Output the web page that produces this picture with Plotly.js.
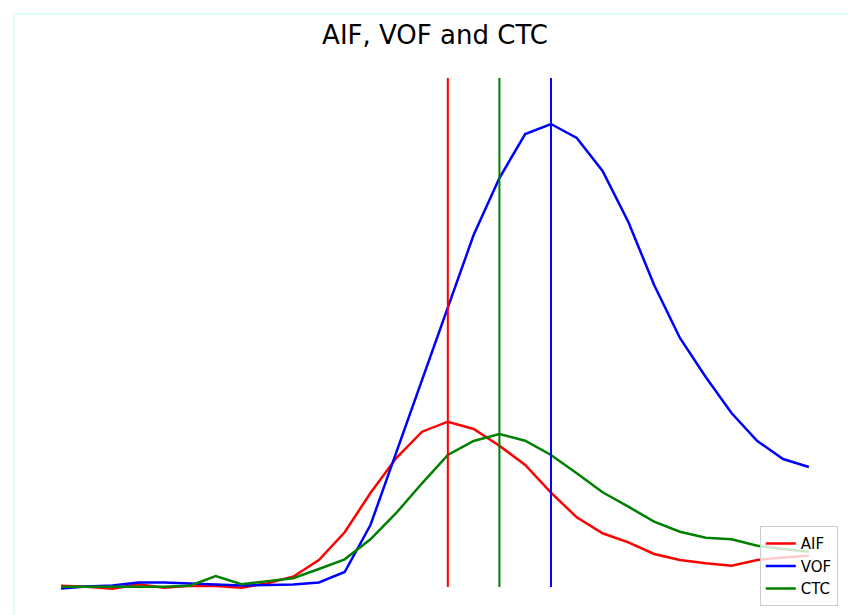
<!DOCTYPE html>
<html>
<head>
<meta charset="utf-8">
<script src="https://cdn.plot.ly/plotly-3.0.1.min.js"></script>
<style>
  html, body { margin: 0; padding: 0; background: #ffffff; }
  #wrap { position: relative; width: 848px; height: 615px; overflow: hidden; }
  #chart { position: absolute; left: 0; top: 0; width: 848px; height: 615px; }
  #frame { position: absolute; left: 13px; top: 13px; width: 900px; height: 700px;
           border-left: 2px solid #defcfa; border-top: 2px solid #defcfa; pointer-events: none; }
</style>
</head>
<body>
<div id="wrap">
  <div id="chart"></div>
  <div id="frame"></div>
</div>
<script>
// Time frame indices
const frames = Array.from({length: 30}, (_, i) => i);

// Series values (arbitrary intensity units)
const aif = [4.3, 3.3, 1.3, 5.7, 2.3, 4.3, 4, 2.3, 6.7, 13.3, 30, 57.7, 97, 132, 158.3, 168.3, 161, 144.3, 125, 97.3, 72.7, 56.7, 47.7, 36, 30, 26.7, 24.3, 30, 32.5, 34.3];
const vof = [1.5, 3.5, 4.5, 7.5, 7.5, 6.5, 5.5, 4.5, 5, 5.5, 7.5, 18, 65, 137, 209, 281, 355, 412, 456, 466, 452, 419, 368, 305, 252, 213, 177, 149, 131, 123];
const ctc = [3.3, 3.3, 3.3, 3.3, 3.3, 4.3, 14, 5.7, 8.7, 11.7, 21, 30.7, 50.7, 77, 106.7, 135, 149, 156, 149.3, 135, 116.7, 97.7, 83.3, 68.3, 58.3, 52.3, 50.7, 44.3, 41, 38.3];

// Series names and colours
const names = ["AIF", "VOF", "CTC"];
const colors = ["red", "blue", "green"];

// Extent of the vertical peak markers
const vlineLow = 3;
const vlineHigh = 512;

const series = [aif, vof, ctc];
const argmax = arr => arr.reduce((best, v, i) => (v > arr[best] ? i : best), 0);

const traces = [];
series.forEach((s, k) => {
  traces.push({
    x: frames, y: s, type: "scatter", mode: "lines", name: names[k],
    line: {color: colors[k], width: 2.5}
  });
});
// vertical lines at each peak, order: AIF (red), CTC (green), VOF (blue)
[0, 2, 1].forEach(k => {
  const p = frames[argmax(series[k])];
  traces.push({
    x: [p, p], y: [vlineLow, vlineHigh], type: "scatter", mode: "lines",
    showlegend: false, hoverinfo: "skip",
    line: {color: colors[k], width: 2}
  });
});

const layout = {
  width: 848, height: 615,
  margin: {l: 24, r: 2, t: 52, b: 1, pad: 0},
  paper_bgcolor: "rgba(0,0,0,0)", plot_bgcolor: "rgba(0,0,0,0)",
  font: {family: "DejaVu Sans", color: "#000000"},
  title: {
    text: "AIF, VOF and CTC",
    font: {family: "DejaVu Sans", size: 26, color: "#000000"},
    x: 0.5, xref: "paper", xanchor: "center",
    y: 1 - 35 / 615, yref: "container", yanchor: "middle"
  },
  xaxis: {range: [-1.435, 30.44], visible: false, showgrid: false, zeroline: false, fixedrange: true},
  yaxis: {range: [-24, 538], visible: false, showgrid: false, zeroline: false, fixedrange: true},
  showlegend: true,
  legend: {
    x: 0.99, xanchor: "right", xref: "paper",
    y: 0.014, yanchor: "bottom", yref: "paper",
    bgcolor: "rgba(255,255,255,0.8)", bordercolor: "#cccccc", borderwidth: 1,
    font: {family: "DejaVu Sans", size: 15, color: "#000000"},
    itemwidth: 30, traceorder: "normal"
  }
};

Plotly.newPlot("chart", traces, layout, {staticPlot: true, displayModeBar: false});
</script>
</body>
</html>
